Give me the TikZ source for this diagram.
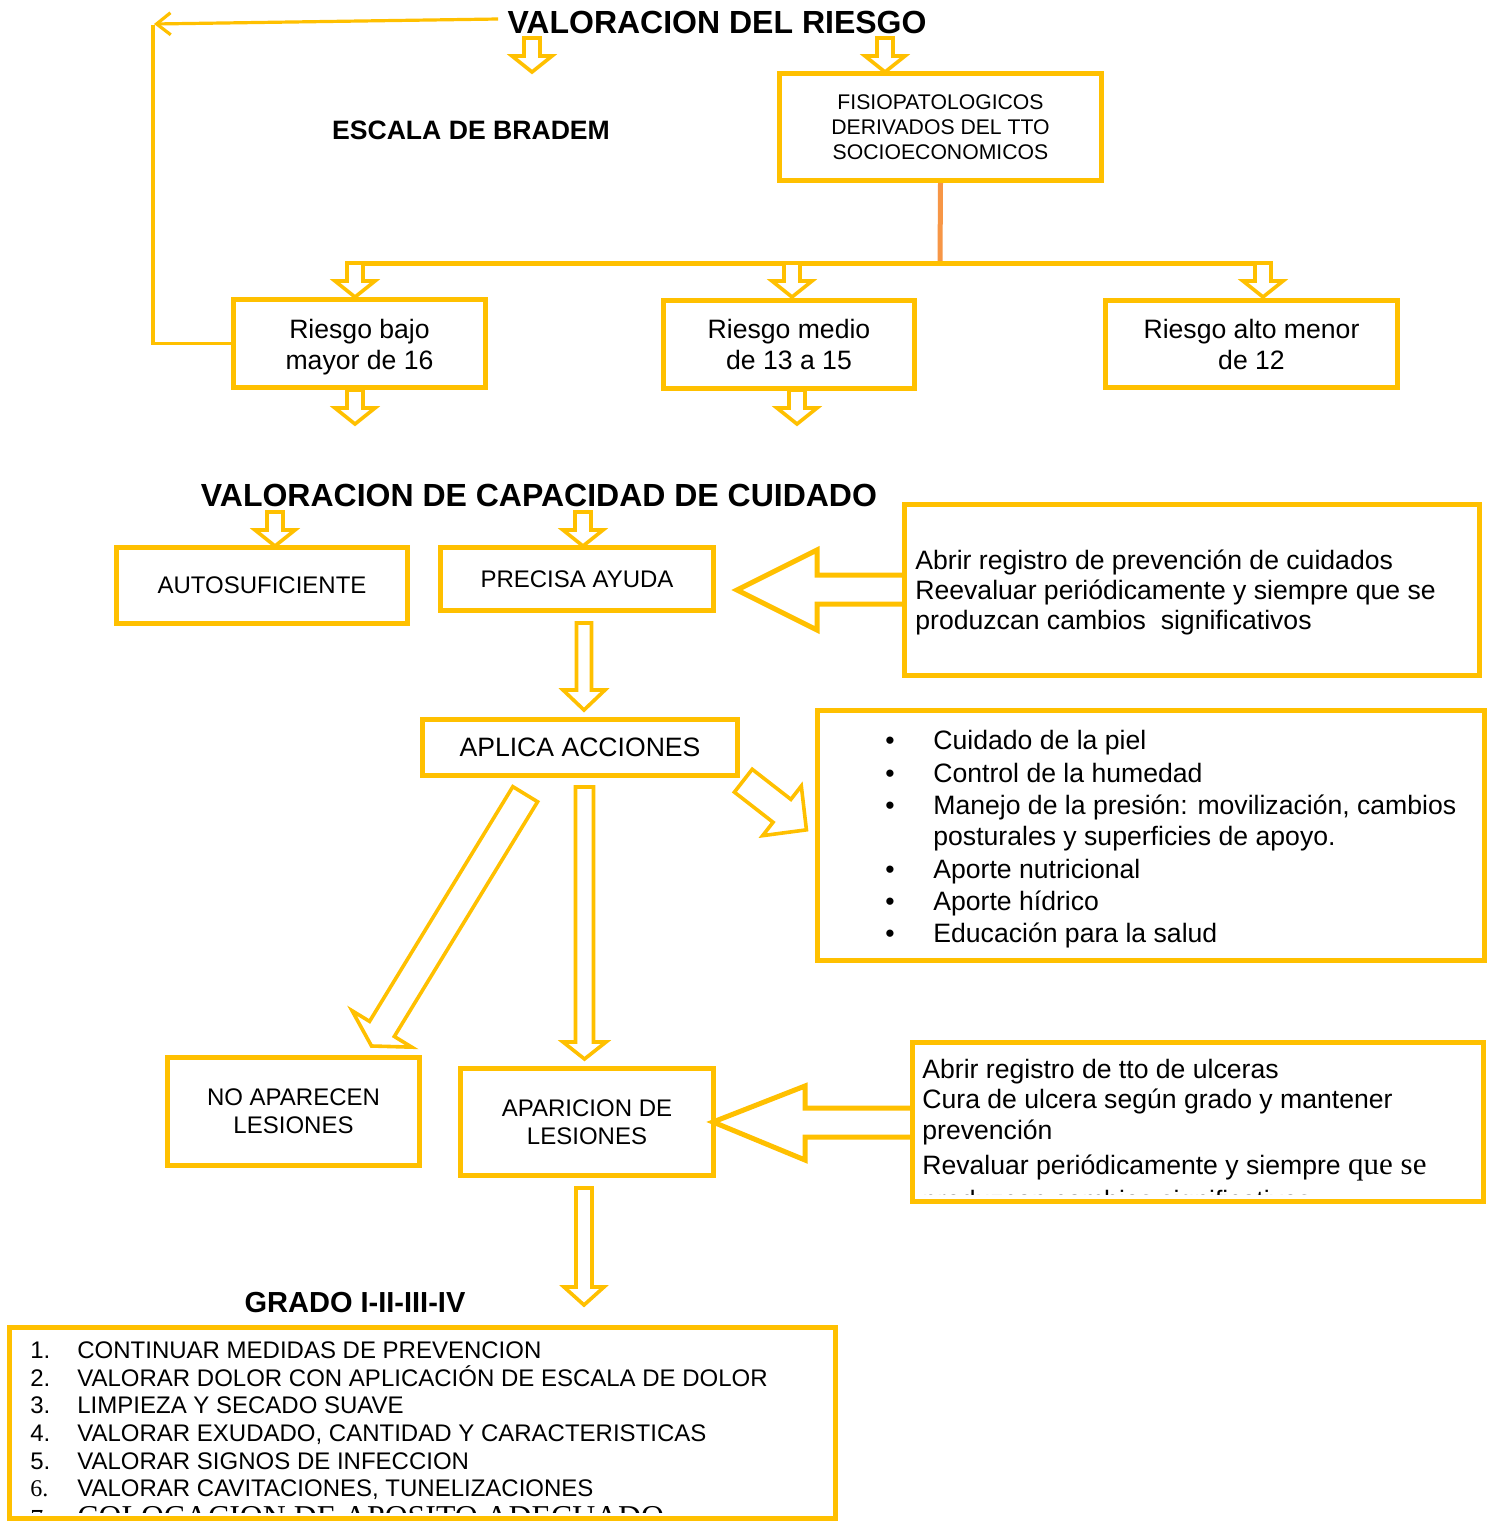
\documentclass[tikz,border=0pt]{standalone}
\usepackage{fontspec}
\setmainfont{Liberation Sans}
\newfontfamily\seriffont{Liberation Serif}
\usetikzlibrary{arrows.meta,calc}
\definecolor{gold}{HTML}{FFC000}
\definecolor{orangeline}{HTML}{F79646}
\tikzset{
 box/.style={draw=gold, line width=2.5pt, align=center, inner sep=0pt},
 barrowline/.style={draw=gold, line width=1.8pt, fill=white, line join=miter},
 bigarrow/.style={draw=gold, line width=2.5pt, fill=white},
 ttl/.style={font=\bfseries\fontsize{16}{19}\selectfont, inner sep=0pt},
 body/.style={font=\fontsize{13.3}{15.5}\selectfont, inner sep=0pt, anchor=base west},
 listtxt/.style={font=\fontsize{12}{14}\selectfont, inner sep=0pt, anchor=base west},
 pics/barrow/.style n args={4}{code={\draw[barrowline] (0,-#2) -- ({#1-#4},-#2) -- ({#1-#4},-#3) -- (#1,0) -- ({#1-#4},#3) -- ({#1-#4},#2) -- (0,#2) -- cycle;}},
}
\begin{document}
\begin{tikzpicture}[x=0.5pt,y=-0.5pt]
\useasboundingbox (0,0) rectangle (1498,1522);
\clip (0,0) rectangle (1498,1522);
\fill[white] (0,0) rectangle (1498,1522);

% titles
\node[ttl] (t1) at (717,22) {VALORACION DEL RIESGO};
\node[ttl, font=\bfseries\fontsize{13.3}{16}\selectfont] (bradem) at (471,130) {ESCALA DE BRADEM};
\node[ttl] (t2) at (539,495) {VALORACION DE CAPACIDAD DE CUIDADO};
\node[ttl, font=\bfseries\fontsize{14.5}{17}\selectfont] (grado) at (355,1302) {GRADO I-II-III-IV};

% big hollow arrows (drawn before boxes)
\draw[bigarrow] (902,575) -- (817,575) -- (817,550) -- (737,590) -- (817,630) -- (817,604) -- (902,604);
\draw[bigarrow] (910,1108) -- (805,1108) -- (805,1086) -- (713,1122) -- (805,1160) -- (805,1137) -- (910,1137);

% boxes
\node[box, minimum width={322*0.5pt}, minimum height={107*0.5pt}, font=\fontsize{10.6}{12.5}\selectfont] (fisio) at (940.5,127) {FISIOPATOLOGICOS\\DERIVADOS DEL TTO\\SOCIOECONOMICOS};
\node[box, minimum width={252*0.5pt}, minimum height={88*0.5pt}] (bajo) at (359.5,343.5) {};
\node[align=center, inner sep=0pt, font=\fontsize{13.3}{15.5}\selectfont] (bajotxt) at (359.5,347.5) {Riesgo bajo\\mayor de 16};
\node[box, minimum width={251*0.5pt}, minimum height={88*0.5pt}, font=\fontsize{13.3}{15.5}\selectfont] (medio) at (789,344.5) {Riesgo medio\\de 13 a 15};
\node[box, minimum width={292*0.5pt}, minimum height={87*0.5pt}, font=\fontsize{13.3}{15.5}\selectfont] (alto) at (1251.5,344) {Riesgo alto menor\\de 12};
\node[box, minimum width={291*0.5pt}, minimum height={76*0.5pt}, font=\fontsize{12}{14}\selectfont] (auto) at (262,585.5) {AUTOSUFICIENTE};
\node[box, minimum width={273*0.5pt}, minimum height={63*0.5pt}, font=\fontsize{12}{14}\selectfont] (precisa) at (577,579) {PRECISA AYUDA};
\node[box, minimum width={575*0.5pt}, minimum height={171*0.5pt}] (prev) at (1192,590) {};
\node[box, minimum width={315*0.5pt}, minimum height={56*0.5pt}, font=\fontsize{13.3}{15}\selectfont] (aplica) at (580,747.5) {APLICA ACCIONES};
\node[box, minimum width={667*0.5pt}, minimum height={250*0.5pt}] (bullets) at (1151,835.5) {};
\node[box, minimum width={252*0.5pt}, minimum height={108*0.5pt}, font=\fontsize{12}{14}\selectfont] (noap) at (293.5,1111.5) {NO APARECEN\\LESIONES};
\node[box, minimum width={253*0.5pt}, minimum height={107*0.5pt}, font=\fontsize{12}{14}\selectfont] (apar) at (587,1122) {APARICION DE\\LESIONES};
\node[box, minimum width={571*0.5pt}, minimum height={159*0.5pt}] (ulc) at (1198,1122) {};
\node[box, minimum width={826*0.5pt}, minimum height={191*0.5pt}] (gbox) at (422.5,1423) {};

% return connector to title
\draw[gold, line width=1.6pt] (bajo.west) -- (153,343.5) -- (153,25);
\draw[gold, line width=1.6pt, -{Straight Barb[length=7pt,width=11pt]}] ($(t1.west)+(-9,-3)$) -- (154,24);

% orange and horizontal connectors
\draw[orangeline, line width=2.5pt] (fisio.south) -- (940,263);
\draw[gold, line width=2.5pt] (346,263) -- (1271,263);

% small block arrows
\pic[rotate=-90] at (532,38) {barrow={34}{8}{20}{16}};
\pic[rotate=-90] at (885,38) {barrow={34}{8}{20}{16}};
\pic[rotate=-90] at (355,263) {barrow={34}{8}{20}{16}};
\pic[rotate=-90] at (792,263) {barrow={34}{8}{20}{16}};
\pic[rotate=-90] at (1263,263) {barrow={34}{8}{20}{16}};
\pic[rotate=-90] at (355,390) {barrow={34}{8}{20}{16}};
\pic[rotate=-90] at (797,390) {barrow={34}{8}{20}{16}};
\pic[rotate=-90] at (275,512) {barrow={34}{8}{20}{16}};
\pic[rotate=-90] at (583,512) {barrow={34}{8}{20}{16}};
\pic[rotate=-90] at (584,623) {barrow={87}{7.5}{21}{20}};
\pic[rotate=-90] at (584.5,787) {barrow={272}{9}{21.5}{17}};
\pic[rotate=-121.4] at (525.2,794.2) {barrow={295}{14.5}{35}{20}};
\pic[rotate=-37.9] at (743.3,780.7) {barrow={80}{14.5}{31.5}{31}};
\pic[rotate=-90] at (584,1188) {barrow={117}{8}{20}{18}};

% text of prevention box
\node[body] (p1) at (915,569.5) {Abrir registro de prevención de cuidados};
\node[body] (p2) at (915,599.5) {Reevaluar periódicamente y siempre que se};
\node[body] (p3) at (915,629.5) {produzcan cambios\ \ significativos};

% bullets
\foreach \yy/\tx [count=\i] in {749.5/Cuidado de la piel, 782.5/Control de la humedad, 814.5/{Manejo de la presión: movilización, cambios}, 878.5/Aporte nutricional, 910.5/Aporte hídrico, 942.5/Educación para la salud}{
  \node[body, anchor=base] (bu\i) at (890,\yy) {•};
  \node[body] (bt\i) at (933,\yy) {\tx};
}
\node[body] (bt7) at (933,845.5) {posturales y superficies de apoyo.};

% ulcer box text (last line clipped)
\node[body] (u1) at (922,1078.5) {Abrir registro de tto de ulceras};
\node[body] (u2) at (922,1108.5) {Cura de ulcera según grado y mantener};
\node[body] (u3) at (922,1139.5) {prevención};
\node[body] (u4) at (922,1174.5) {Revaluar periódicamente y siempre {\seriffont\fontsize{15.5}{16}\selectfont que se}};
\begin{scope}
\clip (905,1150) rectangle (1490,1194);
\node[body] (u5) at (922,1209) {produzcan cambios significativos};
\end{scope}

% bottom list
\foreach \yy/\num/\tx [count=\i] in {1358.5/1./CONTINUAR MEDIDAS DE PREVENCION, 1386.5/2./VALORAR DOLOR CON APLICACIÓN DE ESCALA DE DOLOR, 1413.5/3./LIMPIEZA Y SECADO SUAVE, 1441.5/4./{VALORAR EXUDADO, CANTIDAD Y CARACTERISTICAS}, 1469.5/5./VALORAR SIGNOS DE INFECCION}{
  \node[listtxt] (ln\i) at (30,\yy) {\num};
  \node[listtxt] (lt\i) at (77,\yy) {\tx};
}
\node[listtxt, font=\seriffont\fontsize{12}{14}\selectfont] (ln6) at (30,1496.5) {6.};
\node[listtxt] (lt6) at (77,1496.5) {VALORAR CAVITACIONES, TUNELIZACIONES};
\begin{scope}
\clip (0,1300) rectangle (845,1512);
\node[listtxt, font=\seriffont\fontsize{13}{15}\selectfont] (ln7) at (30,1527) {7.};
\node[listtxt, font=\seriffont\fontsize{15.9}{18}\selectfont] (lt7) at (77,1527) {COLOCACION DE APOSITO ADECUADO};
\end{scope}
\end{tikzpicture}
\end{document}
